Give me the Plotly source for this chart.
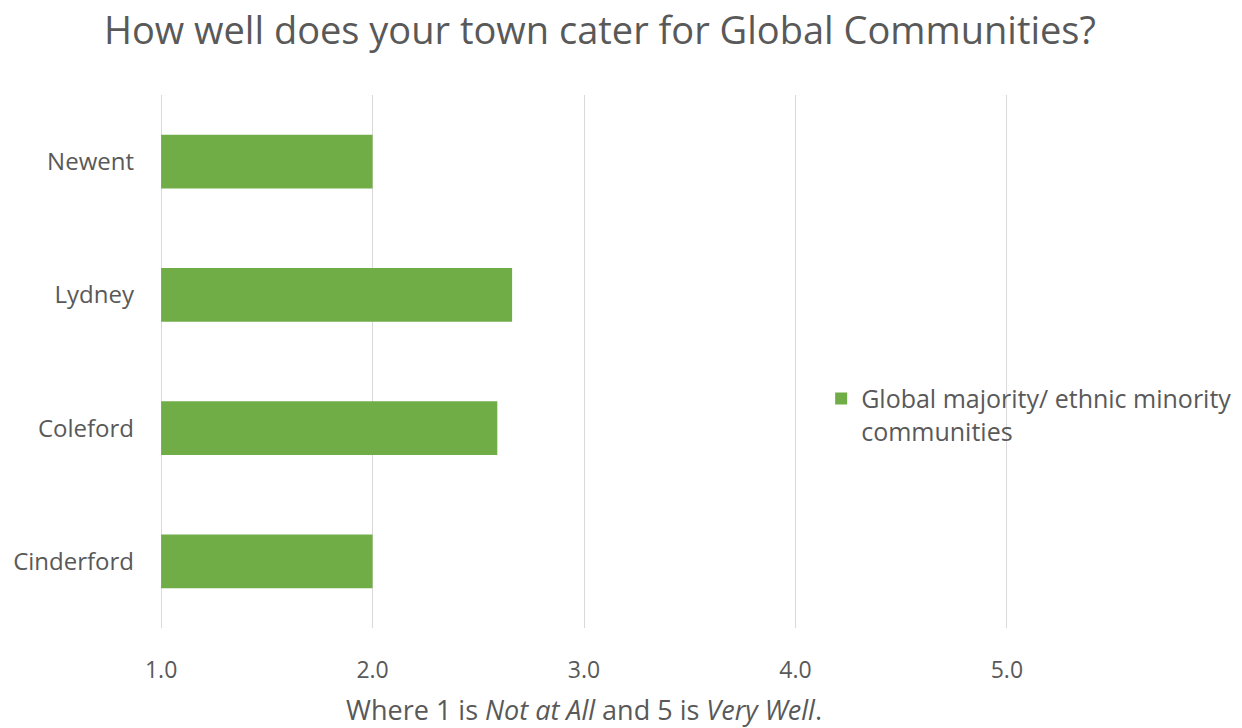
import plotly.graph_objects as go

towns = ["Cinderford", "Coleford", "Lydney", "Newent"]
scores = [2.0, 2.59, 2.66, 2.0]
series_name = "Global majority/ ethnic minority<br>communities"

text_color = "#595959"
bar_color = "#70ad47"
grid_color = "#d9d9d9"
font_family = "Open Sans, Noto Sans, sans-serif"
axis_min = 1
axis_max = 5

fig = go.Figure(
    go.Bar(
        y=towns,
        x=[s - axis_min for s in scores],
        base=axis_min,
        orientation="h",
        name=series_name,
        marker=dict(color=bar_color, line=dict(width=0)),
        showlegend=True,
    )
)

fig.update_layout(
    width=1242,
    height=728,
    margin=dict(l=159, r=233, t=95, b=100, autoexpand=False),
    paper_bgcolor="white",
    plot_bgcolor="white",
    font=dict(family=font_family, color=text_color, size=20),
    bargap=0.595,
    title=dict(
        text="How well does your town cater for Global Communities?",
        x=0.483,
        xanchor="center",
        y=0.958,
        yanchor="middle",
        font=dict(size=38, color=text_color, family=font_family),
    ),
    legend=dict(
        x=0.779,
        xanchor="left",
        y=0.40,
        yanchor="middle",
        xref="paper",
        valign="top",
        font=dict(size=25, color=text_color),
        itemwidth=30,
        bgcolor="rgba(0,0,0,0)",
    ),
)

# small padding so the gridlines at 1.0 and 5.0 stay inside the plot area
pad = 0.01
fig.update_xaxes(
    range=[axis_min - pad, axis_max + pad],
    tickvals=[1, 2, 3, 4, 5],
    ticktext=["1.0", "2.0", "3.0", "4.0", "5.0"],
    showgrid=True,
    gridcolor=grid_color,
    gridwidth=1.3,
    zeroline=False,
    showline=False,
    ticks="",
    ticklabelstandoff=26,
    tickfont=dict(size=23, color=text_color),
    title=dict(
        text="Where 1 is <i>Not at All</i> and 5 is <i>Very Well</i>.",
        font=dict(size=27, color=text_color),
        standoff=20,
    ),
    fixedrange=True,
)

fig.update_yaxes(
    categoryorder="array",
    categoryarray=towns,
    showgrid=False,
    zeroline=False,
    showline=False,
    ticks="",
    ticklabelstandoff=24,
    tickfont=dict(size=24, color=text_color),
    fixedrange=True,
)

fig.write_html("out.html")
